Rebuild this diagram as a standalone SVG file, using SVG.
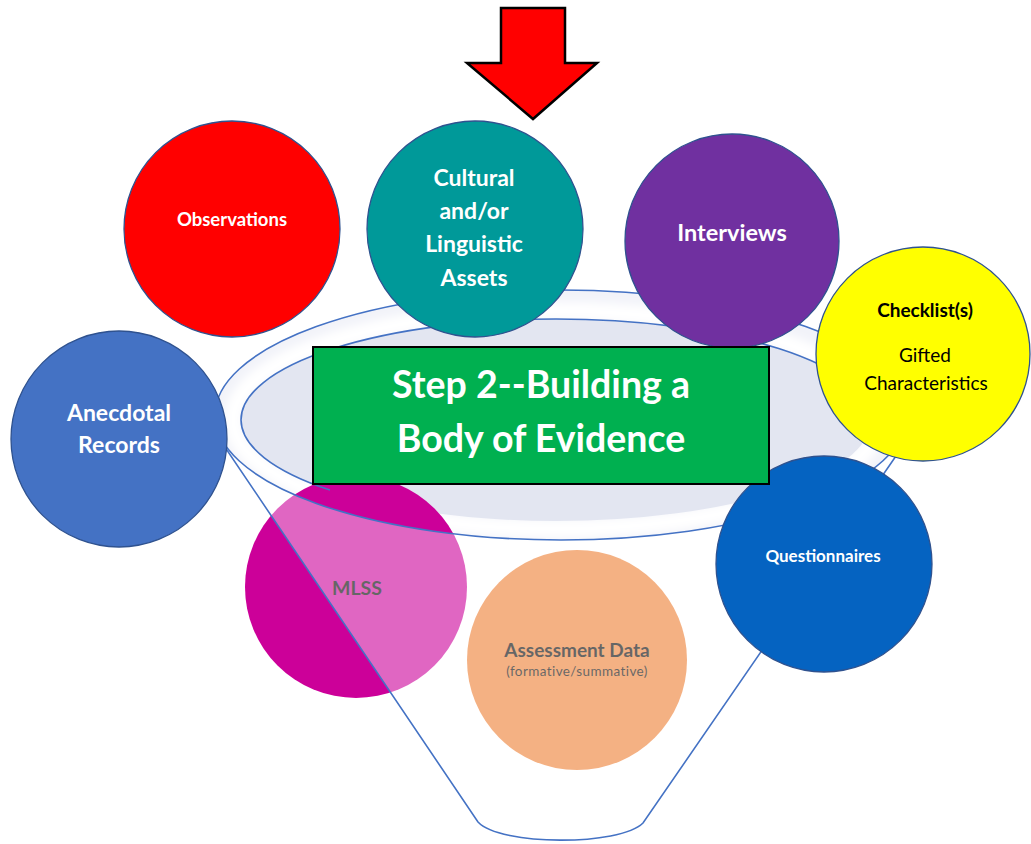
<svg xmlns="http://www.w3.org/2000/svg" width="1031" height="844" viewBox="0 0 1031 844">
<style>
.c{stroke:#2f528f;stroke-width:1.3}
.f{fill:none;stroke:#4472c4;stroke-width:1.6}
.t{font-family:Lato,"Liberation Sans",sans-serif;font-weight:bold;text-anchor:middle;dominant-baseline:central}
.w{fill:#ffffff}
.k{fill:#000000}
.r{font-weight:normal}
</style>
<defs>
<filter id="blur" x="-10%" y="-20%" width="120%" height="140%"><feGaussianBlur stdDeviation="4"/></filter>
</defs>
<rect width="1031" height="844" fill="#ffffff"/>
<g id="funnel-base">
<ellipse cx="561" cy="415" rx="346" ry="125" fill="#f2f3f9"/>
<ellipse cx="556" cy="420" rx="323" ry="109" fill="none" stroke="#ffffff" stroke-width="18" filter="url(#blur)"/>
<ellipse cx="556" cy="420" rx="315" ry="101" fill="#e3e6f1"/>
</g>
<g id="mlss">
<circle cx="356" cy="587" r="111" fill="#cc0099"/>
<text class="t k" x="357" y="587" font-size="19.5">MLSS</text>
</g>
<g id="assessment">
<circle cx="577" cy="660" r="110" fill="#ed7d31"/>
<text class="t k" x="577" y="649" font-size="19">Assessment Data</text>
<text class="t k r" x="577" y="671" font-size="13.5" letter-spacing="0.4">(formative/summative)</text>
</g>
<g id="connectors">
<path d="M210,425 L478,822 C500,846 620,846 643,823 L907,440 L907,415 A346 125 0 0 1 215 415 Z" fill="#ffffff" fill-opacity="0.4"/>
<ellipse class="f" cx="561" cy="415" rx="346" ry="125"/>
<path class="f" d="M330,490 A315 101 0 0 1 241 420 A315 101 0 0 1 871 420"/>
<path class="f" d="M210,425 L478,822 C500,846 620,846 643,823 L907,440"/>
</g>
<g id="observations">
<circle class="c" cx="232" cy="229" r="108" fill="#ff0000"/>
<text class="t w" x="232" y="219" font-size="18.5">Observations</text>
</g>
<g id="cultural">
<circle class="c" cx="475" cy="229" r="108" fill="#009999"/>
<text class="t w" x="474" y="177" font-size="23">Cultural</text>
<text class="t w" x="474" y="210" font-size="23">and/or</text>
<text class="t w" x="474" y="243" font-size="23">Linguistic</text>
<text class="t w" x="474" y="277" font-size="23">Assets</text>
</g>
<g id="interviews">
<circle class="c" cx="732" cy="241" r="107" fill="#7030a0"/>
<text class="t w" x="732" y="232" font-size="23.5">Interviews</text>
</g>
<g id="checklist">
<circle class="c" cx="923" cy="354" r="107" fill="#ffff00"/>
<text class="t k" x="925" y="309" font-size="19">Checklist(s)</text>
<text class="t k r" x="925" y="354" font-size="19">Gifted</text>
<text class="t k r" x="926" y="382" font-size="19">Characteristics</text>
</g>
<g id="anecdotal">
<circle class="c" cx="119" cy="439" r="108" fill="#4472c4"/>
<text class="t w" x="119" y="412" font-size="23">Anecdotal</text>
<text class="t w" x="119" y="444" font-size="23">Records</text>
</g>
<g id="questionnaires">
<circle class="c" cx="824" cy="564" r="108" fill="#0563c1"/>
<text class="t w" x="823" y="555" font-size="17">Questionnaires</text>
</g>
<g id="title">
<rect x="313" y="347" width="456" height="137" fill="#00b050" stroke="#000000" stroke-width="2"/>
<text class="t w" x="541" y="383" font-size="37.5">Step 2--Building a</text>
<text class="t w" x="541" y="437" font-size="37.5">Body of Evidence</text>
</g>
<g id="arrow">
<polygon points="501,8 565,8 565,63 597,63 533,119 467,63 501,63" fill="#ff0000" stroke="#000000" stroke-width="2.5" stroke-linejoin="miter"/>
</g>
</svg>
